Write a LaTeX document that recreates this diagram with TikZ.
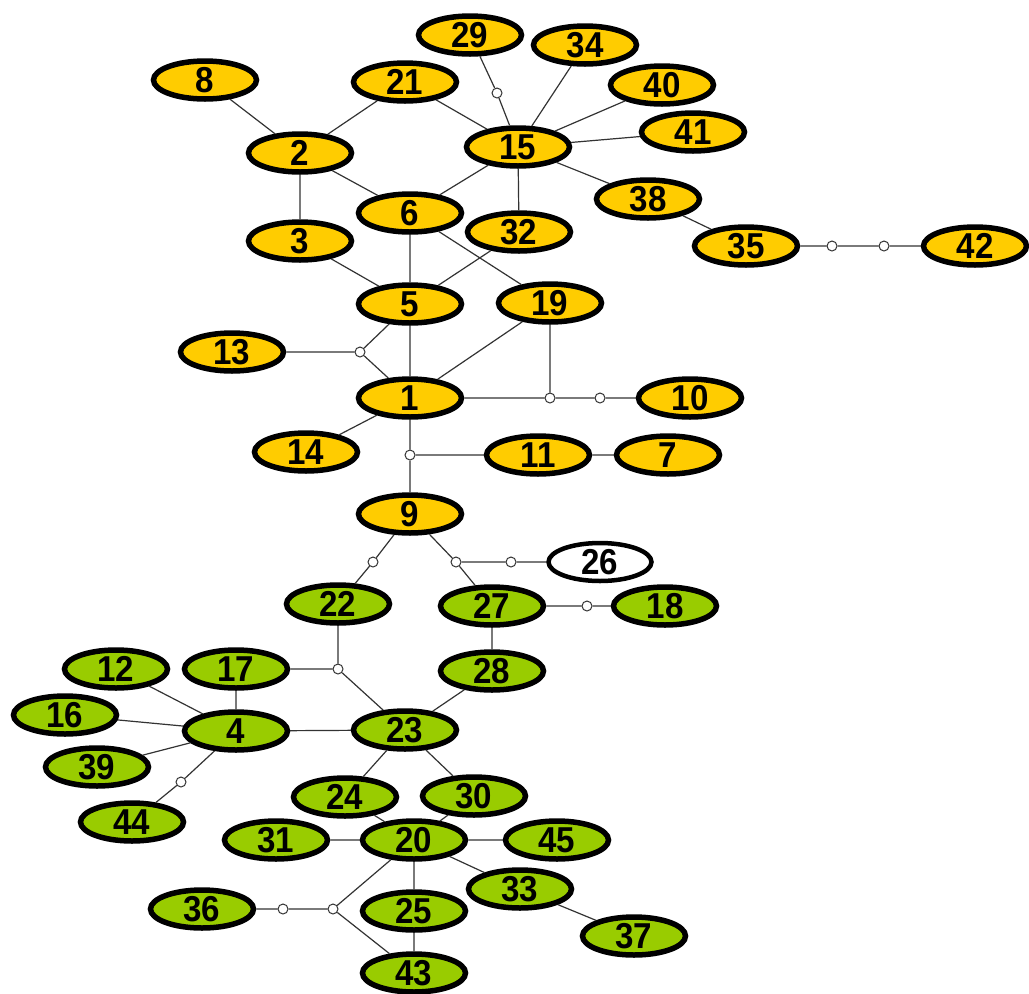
\documentclass[tikz,border=0pt]{standalone}
\usepackage{fontspec}
\setmainfont{Liberation Sans}
\usetikzlibrary{shapes.geometric}
\definecolor{ylw}{HTML}{FFCC00}
\definecolor{grn}{HTML}{99CC00}
\tikzset{
  vtx/.style={ellipse, draw=black, line width=5.5pt, minimum width=103pt, minimum height=38pt, inner sep=0pt,
    font=\fontsize{36}{36}\selectfont\bfseries},
  yv/.style={vtx, fill=ylw},
  gv/.style={vtx, fill=grn},
  wv/.style={vtx, fill=white, line width=4.5pt},
  jn/.style={circle, draw=black!80, fill=white, line width=1pt, minimum size=10pt, inner sep=0pt},
  ed/.style={draw=black!80, line width=1.2pt}
}
\newcommand{\lbl}[1]{\scalebox{0.92}[1]{#1}}
\begin{document}
\begin{tikzpicture}[x=1pt,y=-1pt]
\useasboundingbox (0,0) rectangle (1029,994);
% yellow nodes
\node[yv] (n29) at (470,35) {\lbl{29}};
\node[yv] (n34) at (585,45) {\lbl{34}};
\node[yv] (n8) at (205,80) {\lbl{8}};
\node[yv] (n21) at (405,82) {\lbl{21}};
\node[yv] (n40) at (662,85) {\lbl{40}};
\node[yv] (n41) at (693,132) {\lbl{41}};
\node[yv] (n15) at (518,147) {\lbl{15}};
\node[yv] (n2) at (300,153) {\lbl{2}};
\node[yv] (n38) at (648,199) {\lbl{38}};
\node[yv] (n6) at (410,213) {\lbl{6}};
\node[yv] (n32) at (519,232) {\lbl{32}};
\node[yv] (n3) at (300,241) {\lbl{3}};
\node[yv] (n35) at (746,246) {\lbl{35}};
\node[yv] (n42) at (975,246) {\lbl{42}};
\node[yv] (n5) at (410,304) {\lbl{5}};
\node[yv] (n19) at (550,303) {\lbl{19}};
\node[yv] (n13) at (232,352) {\lbl{13}};
\node[yv] (n1) at (410,398) {\lbl{1}};
\node[yv] (n10) at (690,398) {\lbl{10}};
\node[yv] (n14) at (306,452) {\lbl{14}};
\node[yv] (n11) at (538,455) {\lbl{11}};
\node[yv] (n7) at (668,455) {\lbl{7}};
\node[yv] (n9) at (410,514) {\lbl{9}};
% white node
\node[wv] (n26) at (600,562) {\lbl{26}};
% green nodes
\node[gv] (n22) at (338,604) {\lbl{22}};
\node[gv] (n27) at (492,606) {\lbl{27}};
\node[gv] (n18) at (665,606) {\lbl{18}};
\node[gv] (n12) at (116,669) {\lbl{12}};
\node[gv] (n17) at (236,669) {\lbl{17}};
\node[gv] (n28) at (492,671) {\lbl{28}};
\node[gv] (n16) at (65,715) {\lbl{16}};
\node[gv] (n4) at (236,731) {\lbl{4}};
\node[gv] (n23) at (405,730) {\lbl{23}};
\node[gv] (n39) at (97,767) {\lbl{39}};
\node[gv] (n24) at (345,797) {\lbl{24}};
\node[gv] (n30) at (474,796) {\lbl{30}};
\node[gv] (n44) at (132,822) {\lbl{44}};
\node[gv] (n31) at (276,840) {\lbl{31}};
\node[gv] (n20) at (414,840) {\lbl{20}};
\node[gv] (n45) at (557,840) {\lbl{45}};
\node[gv] (n33) at (520,889) {\lbl{33}};
\node[gv] (n36) at (202,909) {\lbl{36}};
\node[gv] (n25) at (414,911) {\lbl{25}};
\node[gv] (n37) at (634,936) {\lbl{37}};
\node[gv] (n43) at (414,973) {\lbl{43}};
% junctions
\node[jn] (j1) at (497,93) {};
\node[jn] (j2) at (360,352) {};
\node[jn] (j3) at (832,246) {};
\node[jn] (j4) at (884,246) {};
\node[jn] (j5) at (550,398) {};
\node[jn] (j6) at (600,398) {};
\node[jn] (j7) at (410,455) {};
\node[jn] (j8) at (373,562) {};
\node[jn] (j9) at (456,562) {};
\node[jn] (j10) at (511,562) {};
\node[jn] (j11) at (587,606) {};
\node[jn] (j12) at (338,669) {};
\node[jn] (j13) at (181,782) {};
\node[jn] (j14) at (283,909) {};
\node[jn] (j15) at (333,909) {};
% edges
\path[ed]
 (n8) -- (n2)
 (n21) -- (n2)
 (n21) -- (n15)
 (n2) -- (n3)
 (n2) -- (n6)
 (n15) -- (n6)
 (n15) -- (n32)
 (n15) -- (n38)
 (n15) -- (n41)
 (n15) -- (n40)
 (n15) -- (n34)
 (n15) -- (j1) (j1) -- (n29)
 (n38) -- (n35)
 (n35) -- (j3) (j3) -- (j4) (j4) -- (n42)
 (n6) -- (n5)
 (n6) -- (n19)
 (n3) -- (n5)
 (n32) -- (n5)
 (n5) -- (n1)
 (n19) -- (n1)
 (n19) -- (j5)
 (n13) -- (j2) (j2) -- (n5) (j2) -- (n1)
 (n1) -- (j5) (j5) -- (j6) (j6) -- (n10)
 (n1) -- (n14)
 (n1) -- (j7) (j7) -- (n9) (j7) -- (n11)
 (n11) -- (n7)
 (n9) -- (j8) (j8) -- (n22)
 (n9) -- (j9) (j9) -- (n27) (j9) -- (j10) (j10) -- (n26)
 (n27) -- (j11) (j11) -- (n18)
 (n27) -- (n28)
 (n22) -- (j12) (n17) -- (j12) (j12) -- (n23)
 (n28) -- (n23)
 (n12) -- (n4)
 (n17) -- (n4)
 (n16) -- (n4)
 (n39) -- (n4)
 (n4) -- (j13) (j13) -- (n44)
 (n4) -- (n23)
 (n23) -- (n24)
 (n23) -- (n30)
 (n24) -- (n20)
 (n30) -- (n20)
 (n31) -- (n20)
 (n20) -- (n45)
 (n20) -- (n33)
 (n20) -- (n25)
 (n33) -- (n37)
 (n25) -- (n43)
 (n36) -- (j14) (j14) -- (j15) (j15) -- (n20) (j15) -- (n43);
\end{tikzpicture}
\end{document}
